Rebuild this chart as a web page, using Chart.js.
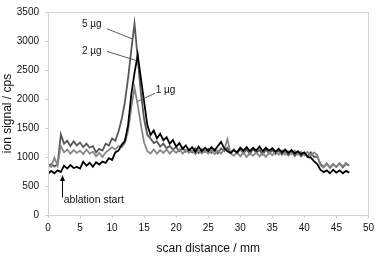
<!DOCTYPE html>
<html>
<head>
<meta charset="utf-8">
<script src="https://cdn.jsdelivr.net/npm/chart.js@4/dist/chart.umd.min.js"></script>
<style>
  html, body { margin: 0; padding: 0; background: #fff; }
  #wrap { width: 378px; height: 256px; }
</style>
</head>
<body>
<div id="wrap"><canvas id="scanChart"></canvas></div>
<script>
// scan distance in mm
const scanDistance = [
  0, 0.5, 1, 1.5, 2, 2.5, 3, 3.5, 4, 4.5,
  5, 5.5, 6, 6.5, 7, 7.5, 8, 8.5, 9, 9.5,
  10, 10.5, 11, 11.5, 12, 12.5, 13, 13.5, 14, 14.5,
  15, 15.5, 16, 16.5, 17, 17.5, 18, 18.5, 19, 19.5,
  20, 20.5, 21, 21.5, 22, 22.5, 23, 23.5, 24, 24.5,
  25, 25.5, 26, 26.5, 27, 27.5, 28, 28.5, 29, 29.5,
  30, 30.5, 31, 31.5, 32, 32.5, 33, 33.5, 34, 34.5,
  35, 35.5, 36, 36.5, 37, 37.5, 38, 38.5, 39, 39.5,
  40, 40.5, 41, 41.5, 42, 42.5, 43, 43.5, 44, 44.5,
  45, 45.5, 46, 46.5, 47
];

// ion signal / cps
const signal5ug = [
  850, 880, 835, 875, 1390, 1230, 1280, 1190, 1270, 1200,
  1250, 1170, 1230, 1160, 1190, 1080, 1140, 1110, 1230, 1200,
  1320, 1280, 1440, 1650, 1950, 2360, 2850, 3300, 2700, 2100,
  1650, 1380, 1320, 1240, 1270, 1180, 1230, 1150, 1190, 1130,
  1170, 1100, 1160, 1090, 1140, 1080, 1150, 1070, 1130, 1090,
  1140, 1070, 1130, 1060, 1150, 1100, 1160, 1070, 1130, 1060,
  1140, 1060, 1130, 1050, 1140, 1070, 1120, 1040, 1130, 1060,
  1120, 1050, 1110, 1040, 1100, 1030, 1090, 1020, 1080, 1010,
  1070, 1010, 1080, 1000, 1010, 880, 830, 890, 820, 880,
  830, 890, 820, 880, 850
];

const signal2ug = [
  710, 760, 720, 770, 740, 850, 800, 860, 810, 830,
  800, 920, 850, 900, 830, 910, 870, 920, 900, 980,
  950, 1080, 1110, 1210, 1280, 1550, 2080, 2450, 2760, 2350,
  1950, 1550, 1380, 1460, 1320, 1400, 1290, 1340, 1230, 1290,
  1180, 1240, 1140, 1200, 1110, 1170, 1090, 1180, 1100, 1160,
  1100, 1170, 1110, 1190, 1260, 1150, 1100, 1070, 1120, 1080,
  1160, 1110, 1170, 1100, 1160, 1110, 1180, 1100, 1160, 1110,
  1150, 1090, 1140, 1080, 1130, 1070, 1120, 1060, 1100, 1050,
  1080, 1000, 990, 930, 880, 780, 740, 770, 720, 780,
  730, 770, 720, 760, 730
];

const signal1ug = [
  860, 830, 990, 850, 1190, 1080, 1130, 1060, 1120, 1070,
  1110, 1050, 1130, 1060, 1090, 1010, 1070, 1000, 1080, 1120,
  1170, 1130, 1190, 1170, 1240, 1450, 1850, 2190, 1900, 1550,
  1250, 1100, 1060, 1130, 1060, 1120, 1070, 1130, 1060, 1120,
  1070, 1130, 1060, 1120, 1070, 1110, 1050, 1120, 1060, 1110,
  1060, 1120, 1050, 1110, 1060, 1130, 1310, 1060, 1020, 1090,
  1010, 1080, 1000, 1070, 1020, 1080, 1010, 1070, 1000, 1080,
  1030, 1100, 1040, 1110, 1040, 1100, 1050, 1110, 1040, 1090,
  1030, 1090, 1020, 1080, 1040, 860, 820, 880, 810, 870,
  830, 890, 840, 900, 850
];

const seriesNames = ["5 µg", "2 µg", "1 µg"];

function toPoints(values) {
  return values.map((v, i) => ({ x: scanDistance[i], y: v }));
}

const FONT = '"Liberation Sans", Arial, sans-serif';

// labels with leader lines, in data coordinates
const labelNotes = [
  { text: seriesNames[0], x: 5.3, y: 3290, from: [9.2, 3210], to: [13.1, 3040] },
  { text: seriesNames[1], x: 5.3, y: 2820, from: [9.2, 2820], to: [13.9, 2660] },
  { text: seriesNames[2], x: 16.8, y: 2150, from: [16.7, 2100], to: [14.0, 1960] }
];

const notesPlugin = {
  id: "notes",
  afterDatasetsDraw(chart) {
    const { ctx, chartArea: a, scales } = chart;
    const sx = scales.x, sy = scales.y;
    ctx.save();

    // frame
    ctx.strokeStyle = "#d4d4d4";
    ctx.lineWidth = 1;
    ctx.strokeRect(Math.round(a.left) + 0.5, Math.round(a.top) + 0.5,
      Math.round(a.right - a.left), Math.round(a.bottom - a.top));

    ctx.font = "10px " + FONT;
    ctx.fillStyle = "#111";
    ctx.textBaseline = "middle";
    ctx.textAlign = "left";
    ctx.strokeStyle = "#333";
    ctx.lineWidth = 0.8;
    labelNotes.forEach(n => {
      ctx.fillText(n.text, sx.getPixelForValue(n.x), sy.getPixelForValue(n.y));
      ctx.beginPath();
      ctx.moveTo(sx.getPixelForValue(n.from[0]), sy.getPixelForValue(n.from[1]));
      ctx.lineTo(sx.getPixelForValue(n.to[0]), sy.getPixelForValue(n.to[1]));
      ctx.stroke();
    });

    // ablation start arrow
    const ax = Math.round(sx.getPixelForValue(2.25)) + 0.5;
    const y0 = sy.getPixelForValue(300);
    const y1 = sy.getPixelForValue(690);
    ctx.strokeStyle = "#000";
    ctx.lineWidth = 1;
    ctx.beginPath();
    ctx.moveTo(ax, y0);
    ctx.lineTo(ax, y1 + 4);
    ctx.stroke();
    ctx.fillStyle = "#000";
    ctx.beginPath();
    ctx.moveTo(ax, y1);
    ctx.lineTo(ax - 2.5, y1 + 6);
    ctx.lineTo(ax + 2.5, y1 + 6);
    ctx.closePath();
    ctx.fill();

    ctx.font = "10.5px " + FONT;
    ctx.fillStyle = "#111";
    ctx.fillText("ablation start", sx.getPixelForValue(2.45), sy.getPixelForValue(255));
    ctx.restore();
  }
};

const ctx = document.getElementById("scanChart").getContext("2d");
new Chart(ctx, {
  type: "line",
  data: {
    datasets: [
      { label: seriesNames[1], data: toPoints(signal2ug), borderColor: "#000000" },
      { label: seriesNames[2], data: toPoints(signal1ug), borderColor: "#888888" },
      { label: seriesNames[0], data: toPoints(signal5ug), borderColor: "#585858" }
    ]
  },
  options: {
    responsive: true,
    maintainAspectRatio: false,
    animation: false,
    events: [],
    elements: {
      line: { borderWidth: 1.8, tension: 0 },
      point: { radius: 0 }
    },
    layout: { padding: { top: 10, right: 9, left: 0, bottom: 0 } },
    plugins: {
      legend: { display: false },
      tooltip: { enabled: false }
    },
    scales: {
      x: {
        type: "linear",
        min: 0,
        max: 50,
        ticks: { stepSize: 5, color: "#111", padding: 4, maxRotation: 0, font: { family: FONT, size: 10 } },
        grid: { drawOnChartArea: false, tickLength: 3, color: "#cfcfcf" },
        border: { display: false },
        title: { display: true, text: "scan distance / mm", color: "#111", padding: 0, font: { family: FONT, size: 12 } },
        afterFit(scale) { scale.height = 41; }
      },
      y: {
        min: 0,
        max: 3500,
        ticks: { stepSize: 500, color: "#111", padding: 6, font: { family: FONT, size: 10 },
          callback: v => String(v) },
        grid: { drawOnChartArea: false, tickLength: 3, color: "#cfcfcf" },
        border: { display: false },
        title: { display: true, text: "ion signal / cps", color: "#111", padding: 0, font: { family: FONT, size: 12 } },
        afterFit(scale) { scale.width = 48; }
      }
    }
  },
  plugins: [notesPlugin]
});
</script>
</body>
</html>
